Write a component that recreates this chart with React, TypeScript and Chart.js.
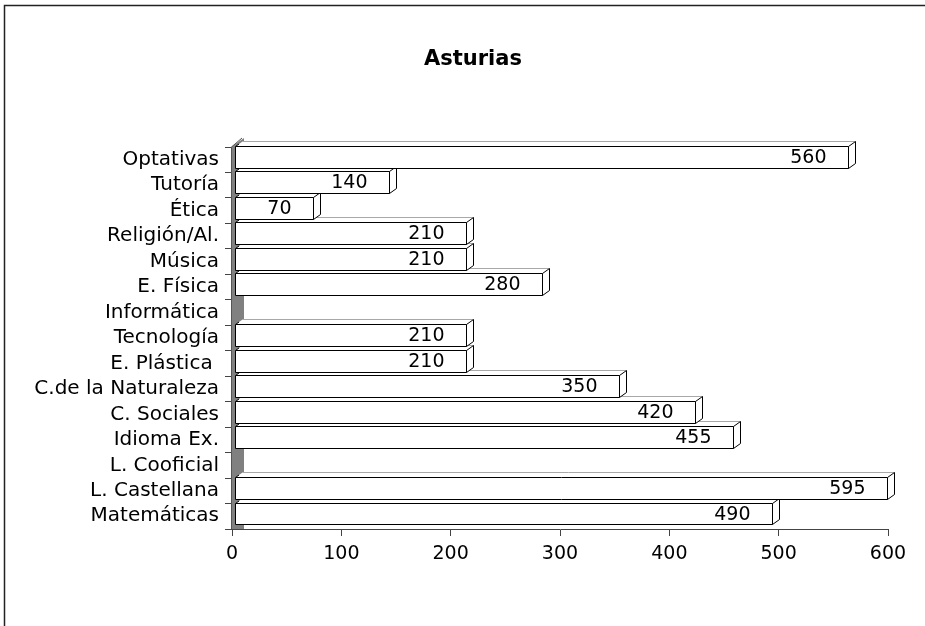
import React, { useEffect, useRef } from "react";
import { Chart, registerables } from "chart.js";

Chart.register(...registerables);

const chartTitle = "Asturias";
const categories = [
  "Matemáticas",
  "L. Castellana",
  "L. Cooficial",
  "Idioma Ex.",
  "C. Sociales",
  "C.de la Naturaleza",
  "E. Plástica ",
  "Tecnología",
  "Informática",
  "E. Física",
  "Música",
  "Religión/Al.",
  "Ética",
  "Tutoría",
  "Optativas",
];
const hours = [490, 595, 0, 455, 420, 350, 210, 210, 0, 280, 210, 210, 70, 140, 560];
const xMin = 0;
const xMax = 600;
const xStep = 100;

const FONT = "'DejaVu Sans', Verdana, sans-serif";
const DX = 7;
const DY = 5;

const framePlugin = {
  id: "frame",
  beforeDraw(chart: any) {
    const ctx = chart.ctx;
    ctx.save();
    ctx.fillStyle = "#ffffff";
    ctx.fillRect(0, 0, chart.width, chart.height);
    ctx.strokeStyle = "#222222";
    ctx.lineWidth = 1.5;
    ctx.strokeRect(4.5, 5.5, chart.width + 50, chart.height + 50);
    ctx.fillStyle = "#000000";
    ctx.font = "bold 21px " + FONT;
    ctx.textAlign = "center";
    ctx.textBaseline = "middle";
    ctx.fillText(chartTitle, 473, 60);
    ctx.restore();
  },
};

const bars3dPlugin = {
  id: "bars3d",
  beforeDatasetsDraw(chart: any) {
    const ctx = chart.ctx;
    const a = chart.chartArea;
    const x0 = chart.scales.x.getPixelForValue(0);
    ctx.save();
    ctx.fillStyle = "#808080";
    ctx.beginPath();
    ctx.moveTo(x0 - 1, a.bottom);
    ctx.lineTo(x0 - 1, a.top);
    ctx.lineTo(x0 + 12, a.top - 9);
    ctx.lineTo(x0 + 12, a.bottom);
    ctx.closePath();
    ctx.fill();
    ctx.strokeStyle = "#555555";
    ctx.lineWidth = 1;
    ctx.beginPath();
    ctx.moveTo(x0 - 0.5, a.bottom);
    ctx.lineTo(x0 - 0.5, a.top);
    ctx.lineTo(x0 + 10, a.top - 9);
    ctx.stroke();
    ctx.restore();
  },
  afterDatasetsDraw(chart: any) {
    const ctx = chart.ctx;
    const meta = chart.getDatasetMeta(0);
    const data = chart.data.datasets[0].data as number[];
    const band = Math.abs(chart.scales.y.getPixelForValue(0) - chart.scales.y.getPixelForValue(1));
    ctx.save();
    meta.data.forEach((el: any, i: number) => {
      const v = data[i];
      if (!v) return;
      const p = el.getProps(["x", "y", "base", "height"], true);
      const shift = (band - p.height) / 2 + 1;
      const left = Math.round(p.base) + 2.5;
      const right = Math.round(p.x) + 4.5;
      const top = Math.round(p.y - p.height / 2 - shift) + 0.5;
      const bottom = Math.round(p.y + p.height / 2 - shift) + 0.5;
      ctx.lineWidth = 1;
      ctx.beginPath();
      ctx.moveTo(left, top);
      ctx.lineTo(left + DX, top - DY);
      ctx.lineTo(right + DX, top - DY);
      ctx.lineTo(right, top);
      ctx.closePath();
      ctx.fillStyle = "#ffffff";
      ctx.fill();
      ctx.strokeStyle = "#a8a8a8";
      ctx.beginPath();
      ctx.moveTo(left + DX, top - DY);
      ctx.lineTo(right + DX, top - DY);
      ctx.stroke();
      ctx.strokeStyle = "#000000";
      ctx.beginPath();
      ctx.moveTo(left, top);
      ctx.lineTo(left + DX * 0.5, top - DY * 0.5);
      ctx.stroke();
      ctx.beginPath();
      ctx.moveTo(right, top);
      ctx.lineTo(right + DX, top - DY);
      ctx.lineTo(right + DX, bottom - DY);
      ctx.lineTo(right, bottom);
      ctx.closePath();
      ctx.fillStyle = "#ffffff";
      ctx.fill();
      ctx.strokeStyle = "#000000";
      ctx.stroke();
      ctx.beginPath();
      ctx.rect(left, top, right - left, bottom - top);
      ctx.fillStyle = "#ffffff";
      ctx.fill();
      ctx.strokeStyle = "#000000";
      ctx.stroke();
      ctx.fillStyle = "#000000";
      ctx.font = "19px " + FONT;
      ctx.textAlign = "right";
      ctx.textBaseline = "middle";
      ctx.fillText(String(v), right - 22, (top + bottom) / 2 + 1);
    });
    ctx.restore();
  },
};

export default function App() {
  const ref = useRef<HTMLCanvasElement | null>(null);

  useEffect(() => {
    if (!ref.current) return;
    Chart.defaults.font.family = FONT;
    const chart = new Chart(ref.current, {
      type: "bar",
      data: {
        labels: categories,
        datasets: [
          {
            label: chartTitle,
            data: hours,
            backgroundColor: "rgba(0,0,0,0)",
            borderColor: "rgba(0,0,0,0)",
            borderWidth: 0,
            barPercentage: 0.86,
            categoryPercentage: 1,
          },
        ],
      },
      options: {
        indexAxis: "y",
        responsive: false,
        animation: false,
        layout: { padding: { left: 0, right: 37, top: 147, bottom: 0 } },
        plugins: {
          legend: { display: false },
          tooltip: { enabled: false },
          title: { display: false },
        },
        scales: {
          x: {
            min: xMin,
            max: xMax,
            ticks: {
              stepSize: xStep,
              color: "#000000",
              font: { size: 19, family: FONT },
              padding: 7,
            },
            grid: {
              drawOnChartArea: false,
              tickLength: 7,
              color: "#444444",
            },
            border: { color: "#444444" },
            afterFit: (s: any) => {
              s.height = 97;
            },
          },
          y: {
            reverse: true,
            ticks: {
              color: "#000000",
              font: { size: 20, family: FONT },
              padding: 6,
              autoSkip: false,
            },
            grid: {
              drawOnChartArea: false,
              tickLength: 7,
              color: "#444444",
              offset: true,
            },
            border: { display: false },
            afterFit: (s: any) => {
              s.width = 232;
            },
          },
        },
      },
      plugins: [framePlugin, bars3dPlugin],
    } as any);
    return () => chart.destroy();
  }, []);

  return (
    <div style={{ position: "fixed", left: 0, top: 0, width: 925, height: 626, background: "#fff" }}>
      <canvas ref={ref} width={925} height={626} />
    </div>
  );
}
